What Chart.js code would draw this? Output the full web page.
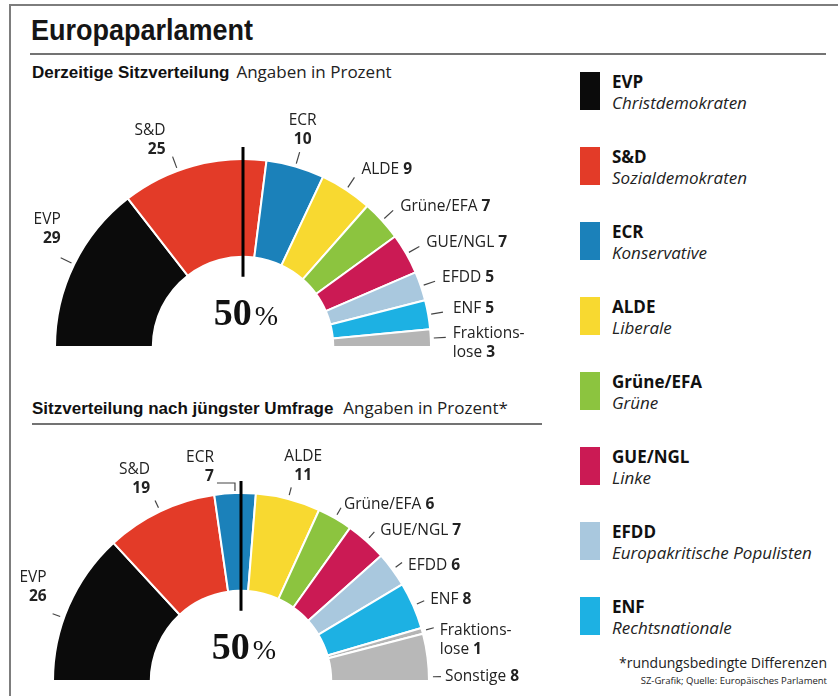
<!DOCTYPE html>
<html lang="de">
<head>
<meta charset="utf-8">
<title>Europaparlament</title>
<script src="https://cdn.jsdelivr.net/npm/chart.js@4.4.1/dist/chart.umd.min.js"></script>
<style>
    html, body { margin: 0; padding: 0; background: #fff; }
    body { position: relative; width: 838px; height: 696px; overflow: hidden; font-family: 'Open Sans', sans-serif; color: #1c1c1c; }
    .frame { position: absolute; left: 9px; top: 4px; width: 840px; height: 700px; border-left: 2px solid #7d7d7d; border-top: 2px solid #7d7d7d; }
    h1 { position: absolute; left: 31px; top: 12px; margin: 0; font: bold 30px/36px 'Liberation Sans', Arial, sans-serif; color: #151515; transform: scaleX(0.9); transform-origin: 0 0; white-space: nowrap; }
    .rule { position: absolute; height: 2px; background: #737373; }
    .sub { position: absolute; left: 32px; margin: 0; font-size: 17px; line-height: 24px; white-space: nowrap; color: #222; }
    .sub b { font-family: 'Liberation Sans', Arial, sans-serif; font-size: 17px; margin-right: 7px; color: #111; }
    canvas { position: absolute; left: 10px; }
    #legend .swatch { position: absolute; left: 580px; width: 20px; height: 38px; }
    #legend .name { position: absolute; left: 612px; font-weight: bold; font-size: 17px; line-height: 22px; color: #111; white-space: nowrap; }
    #legend .desc { position: absolute; left: 612px; font-style: italic; font-size: 17px; line-height: 22px; color: #222; white-space: nowrap; }
    .note { position: absolute; right: 11px; white-space: nowrap; text-align: right; color: #222; }
</style>
</head>
<body>
<div class="frame"></div>
<h1>Europaparlament</h1>
<div class="rule" style="left:30px; top:53px; width:796px;"></div>
<div class="sub" style="top:60px;"><b>Derzeitige Sitzverteilung</b>Angaben in Prozent</div>
<canvas id="currentChart" width="540" height="275" style="top:90px;"></canvas>
<div class="sub" style="top:396px;"><b style="margin-right:10px;">Sitzverteilung nach jüngster Umfrage</b>Angaben in Prozent*</div>
<div class="rule" style="left:32px; top:423px; width:510px;"></div>
<canvas id="pollChart" width="540" height="266" style="top:430px;"></canvas>
<div id="legend"></div>
<div class="note" style="top:652px; font-size:14px; line-height:22px;">*rundungsbedingte Differenzen</div>
<div class="note" style="top:674px; font-size:9.5px; line-height:13px;">SZ-Grafik; Quelle: Europäisches Parlament</div>

<script>
// Fraktionen und Farben
const parties = ['EVP', 'S&D', 'ECR', 'ALDE', 'Grüne/EFA', 'GUE/NGL', 'EFDD', 'ENF', 'Fraktionslose'];
const partyNames = ['Christdemokraten', 'Sozialdemokraten', 'Konservative', 'Liberale', 'Grüne', 'Linke', 'Europakritische Populisten', 'Rechtsnationale'];
const partyColors = ['#0b0b0b', '#e33b28', '#1b81ba', '#f8d930', '#8cc43f', '#cb1a54', '#a9c8de', '#1db1e3', '#b5b5b5'];

// Derzeitige Sitzverteilung (Prozent)
const currentSeats = [29, 25, 10, 9, 7, 7, 5, 5, 3];
const currentLabels = ['EVP\n', 'S&D\n', 'ECR\n', 'ALDE', 'Grüne/EFA', 'GUE/NGL', 'EFDD', 'ENF', 'Fraktions-\nlose'];

// Sitzverteilung nach jüngster Umfrage (Prozent)
const pollParties = parties.concat(['Sonstige']);
const pollSeats = [26, 19, 7, 11, 6, 7, 6, 8, 1, 8];
const pollLabels = ['EVP\n', 'S&D\n', 'ECR\n', 'ALDE\n', 'Grüne/EFA', 'GUE/NGL', 'EFDD', 'ENF', 'Fraktions-\nlose', 'Sonstige'];
const pollColors = partyColors.concat(['#b8b8b8']);

// Feinkorrektur der Beschriftungen: [Winkel, dx, dy]
const currentNudges = [[0, 3, -7], [-5, -4, 5], [0, 3, 0], [0, 0, -4], [0, 0, 0], [0, 0, 0], [0, 0, 0], [0, 3, 0], [0, 0, 0]];
const pollNudges = [[-4, -3, -5], [0, -2, 0], [0, 0, 0], [0, 12, 0], [0, -3, -2], [0, 0, 0], [0, 0, 4], [0, 0, 0], [0, 0, 4], [6, -2, 1]];

const LABEL_FONT = "15.5px 'Open Sans', sans-serif";
const LABEL_BOLD = "bold 15.5px 'Open Sans', sans-serif";
const LINE_H = 19;

function drawLabel(ctx, template, value, x, y, align) {
    const lines = template.split('\n');
    lines.forEach((line, k) => {
        const last = k === lines.length - 1;
        const boldPart = last ? String(value) : '';
        const text = last && line ? line + ' ' : line;
        ctx.font = LABEL_FONT;
        const w1 = ctx.measureText(text).width;
        ctx.font = LABEL_BOLD;
        const w2 = ctx.measureText(boldPart).width;
        let left = x;
        if (align === 'right') left = x - w1 - w2;
        if (align === 'center') left = x - (w1 + w2) / 2;
        const ly = y + k * LINE_H;
        ctx.font = LABEL_FONT;
        ctx.fillText(text, left, ly);
        ctx.font = LABEL_BOLD;
        ctx.fillText(boldPart, left + w1, ly);
    });
}

// Zeichnet 50%-Linie, "50 %" und die Beschriftungen mit Hinweisstrichen
const parliamentLabels = {
    id: 'parliamentLabels',
    afterDatasetsDraw(chart, args, opts) {
        const ctx = chart.ctx;
        const meta = chart.getDatasetMeta(0);
        const values = chart.data.datasets[0].data;
        const first = meta.data[0];
        const cx = first.x, cy = first.y;
        const R = first.outerRadius, r = first.innerRadius;

        ctx.save();
        ctx.strokeStyle = '#000';
        ctx.lineWidth = 3;
        ctx.beginPath();
        ctx.moveTo(cx, cy - R - 12);
        ctx.lineTo(cx, cy - r + 20);
        ctx.stroke();

        ctx.fillStyle = '#111';
        ctx.textBaseline = 'alphabetic';
        ctx.textAlign = 'left';
        ctx.font = "bold 38px 'Liberation Serif', serif";
        const w50 = ctx.measureText('50').width;
        ctx.font = "28px 'Liberation Serif', serif";
        const wPct = ctx.measureText('%').width;
        const x0 = cx + 3 - (w50 + 3 + wPct) / 2;
        ctx.font = "bold 38px 'Liberation Serif', serif";
        ctx.fillText('50', x0, cy - 22);
        ctx.font = "28px 'Liberation Serif', serif";
        ctx.fillText('%', x0 + w50 + 3, cy - 22);

        ctx.textBaseline = 'middle';
        ctx.fillStyle = '#222';
        ctx.strokeStyle = '#444';
        ctx.lineWidth = 1.2;
        meta.data.forEach((arc, i) => {
            const nudge = opts.nudges[i] || [0, 0, 0];
            const mid = (arc.startAngle + arc.endAngle) / 2 + nudge[0] * Math.PI / 180;
            const cos = Math.cos(mid), sin = Math.sin(mid);
            const template = opts.labels[i];
            const n = template.split('\n').length;
            const theta = (mid + Math.PI) * 180 / Math.PI;

            if (opts.elbow === i) {
                const px = cx + (R + 2) * cos;
                const top = cy - R - 10;
                ctx.beginPath();
                ctx.moveTo(px, cy - R - 2);
                ctx.lineTo(px, top);
                ctx.lineTo(px - 18, top);
                ctx.stroke();
                drawLabel(ctx, template, values[i], px - 21 + nudge[1], top - 6 - (n - 1) * LINE_H + nudge[2], 'right');
                return;
            }

            const x1 = cx + (R + opts.leaderIn) * cos, y1 = cy + (R + opts.leaderIn) * sin;
            const ex = cx + (R + opts.leaderOut) * cos, ey = cy + (R + opts.leaderOut) * sin;
            ctx.beginPath();
            ctx.moveTo(x1, y1);
            ctx.lineTo(ex, ey);
            ctx.stroke();

            let align, tx, ty;
            if (theta < 72) {
                align = 'right'; tx = ex - 3; ty = ey - 12 - (n - 1) * LINE_H;
            } else if (theta <= 118) {
                align = 'center'; tx = ex; ty = ey - 12 - (n - 1) * LINE_H;
            } else {
                align = 'left'; tx = ex + opts.sideDx; ty = ey + opts.sideDy;
            }
            drawLabel(ctx, template, values[i], tx + nudge[1], ty + nudge[2], align);
        });
        ctx.restore();
    }
};

function buildChart(canvasId, labels, seats, colors, labelOptions, padding) {
    return new Chart(document.getElementById(canvasId), {
        type: 'doughnut',
        data: {
            labels: labels,
            datasets: [{
                data: seats,
                backgroundColor: colors,
                borderColor: '#ffffff',
                borderWidth: 2,
                hoverOffset: 0
            }]
        },
        options: {
            responsive: false,
            devicePixelRatio: 1,
            animation: false,
            rotation: -90,
            circumference: 180,
            cutout: '48%',
            layout: { padding: padding },
            plugins: {
                legend: { display: false },
                tooltip: { enabled: false },
                parliamentLabels: labelOptions
            }
        },
        plugins: [parliamentLabels]
    });
}

function buildLegend() {
    const legend = document.getElementById('legend');
    partyNames.forEach((desc, i) => {
        const top = 72 + i * 75;
        const swatch = document.createElement('div');
        swatch.className = 'swatch';
        swatch.style.top = top + 'px';
        swatch.style.background = partyColors[i];
        const name = document.createElement('div');
        name.className = 'name';
        name.style.top = (top - 1) + 'px';
        name.textContent = parties[i];
        const sub = document.createElement('div');
        sub.className = 'desc';
        sub.style.top = (top + 20) + 'px';
        sub.textContent = desc;
        legend.appendChild(swatch);
        legend.appendChild(name);
        legend.appendChild(sub);
    });
}

buildLegend();

buildChart('currentChart', parties, currentSeats, partyColors,
    { labels: currentLabels, nudges: currentNudges, leaderIn: 3, leaderOut: 15, sideDx: 7, sideDy: -4, elbow: -1 },
    { left: 44, top: 68, right: 118, bottom: 17 });

buildChart('pollChart', pollParties, pollSeats, pollColors,
    { labels: pollLabels, nudges: pollNudges, leaderIn: 4, leaderOut: 12, sideDx: 6, sideDy: -1, elbow: 2 },
    { left: 42, top: 62, right: 120, bottom: 14 });
</script>
</body>
</html>
